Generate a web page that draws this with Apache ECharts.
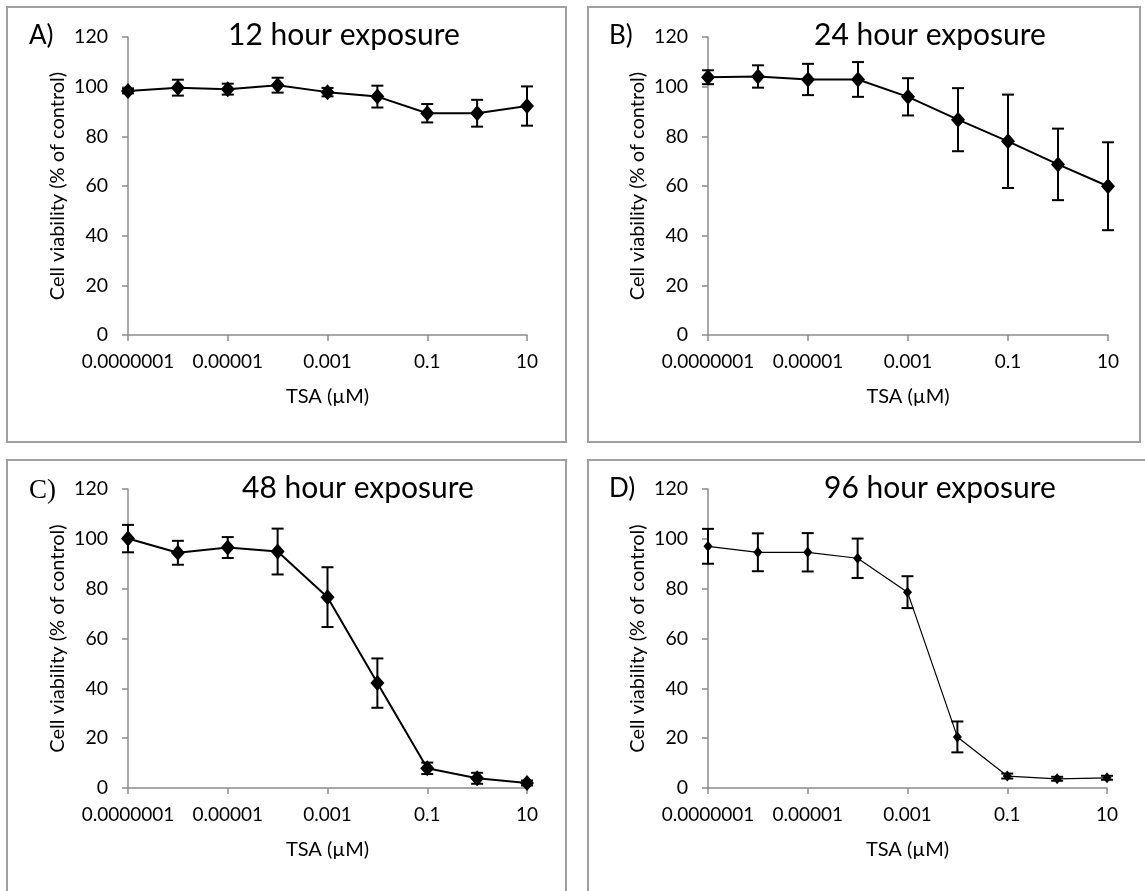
<!DOCTYPE html>
<html>
<head>
<meta charset="utf-8">
<script src="https://cdn.jsdelivr.net/npm/echarts@6/dist/echarts.min.js"></script>
<style>
  html, body { margin: 0; padding: 0; background: #fff; }
  #chart-container { width: 1145px; height: 891px; }
</style>
</head>
<body>
<div id="chart-container"></div>
<script>
// TSA concentrations (µM), one point per decade
var concentrations = [1e-7, 1e-6, 1e-5, 1e-4, 1e-3, 1e-2, 0.1, 1, 10];
var xTickLabels = ['0.0000001', '0.00001', '0.001', '0.1', '10'];
var xTickExponents = [-7, -5, -3, -1, 1];

// cell viability (% of control) and error bars
var mean12 = [98.3, 99.6, 99.0, 100.6, 97.8, 96.0, 89.3, 89.3, 92.2];
var err12 = [1.0, 3.2, 2.2, 3.0, 1.7, 4.4, 3.7, 5.4, 7.9];
var mean24 = [103.8, 104.1, 102.9, 102.9, 95.9, 86.7, 78.0, 68.7, 59.9];
var err24 = [2.8, 4.5, 6.3, 7.0, 7.5, 12.7, 18.8, 14.4, 17.7];
var mean48 = [100.1, 94.4, 96.5, 94.9, 76.6, 42.1, 7.9, 3.9, 2.0];
var err48 = [5.5, 4.8, 4.2, 9.2, 12.0, 9.9, 2.3, 2.2, 1.0];
var mean96 = [97.0, 94.6, 94.6, 92.2, 78.6, 20.5, 4.8, 3.7, 4.1];
var err96 = [7.0, 7.6, 7.7, 7.9, 6.4, 6.2, 1.0, 0.8, 0.8];

var titles = ['12 hour exposure', '24 hour exposure', '48 hour exposure', '96 hour exposure'];
var letters = ['A)', 'B)', 'C)', 'D)'];

var FONT = 'Lato';

var panels = [
  { mean: mean12, err: err12, grid: { left: 128, top: 37, width: 399, height: 298 }, frame: [7, 7, 559, 435], title: [344, 35], letter: [29, 36], thin: false },
  { mean: mean24, err: err24, grid: { left: 708, top: 37, width: 400, height: 298 }, frame: [588, 7, 552, 435], title: [930, 35], letter: [609, 36], thin: false },
  { mean: mean48, err: err48, grid: { left: 128, top: 489, width: 399, height: 299 }, frame: [7, 460, 559, 440], title: [358, 488], letter: [29, 491], thin: false, serifLetter: true },
  { mean: mean96, err: err96, grid: { left: 708, top: 489, width: 399, height: 299 }, frame: [588, 460, 570, 440], title: [940, 488], letter: [609, 489], thin: true }
];

function renderErrorBar(lw) {
  return function (params, api) {
    var x = api.value(0);
    var top = api.coord([x, api.value(2)]);
    var bot = api.coord([x, api.value(1)]);
    var half = 6;
    var st = { stroke: '#000', lineWidth: lw };
    return {
      type: 'group',
      children: [
        { type: 'line', shape: { x1: top[0], y1: top[1], x2: bot[0], y2: bot[1] }, style: st },
        { type: 'line', shape: { x1: top[0] - half, y1: top[1], x2: top[0] + half, y2: top[1] }, style: st },
        { type: 'line', shape: { x1: bot[0] - half, y1: bot[1], x2: bot[0] + half, y2: bot[1] }, style: st }
      ]
    };
  };
}

var grids = [], xAxes = [], yAxes = [], series = [], graphics = [];

panels.forEach(function (p, i) {
  grids.push(p.grid);
  xAxes.push({
    type: 'value', gridIndex: i, min: -7, max: 1, interval: 2,
    name: 'TSA (µM)', nameLocation: 'middle', nameGap: 52,
    nameTextStyle: { fontFamily: FONT, fontSize: 20, color: '#000' },
    axisLine: { show: true, onZero: false, lineStyle: { color: '#8c8c8c', width: 1.5 } },
    axisTick: { show: true, length: 6, lineStyle: { color: '#8c8c8c', width: 1.5 } },
    axisLabel: {
      margin: 17, fontFamily: FONT, fontSize: 19, color: '#000',
      formatter: function (v) {
        var k = xTickExponents.indexOf(Math.round(v));
        return k >= 0 ? xTickLabels[k] : '';
      }
    },
    splitLine: { show: false }
  });
  yAxes.push({
    type: 'value', gridIndex: i, min: 0, max: 120, interval: 20,
    name: 'Cell viability (% of control)', nameLocation: 'middle', nameGap: 60,
    nameTextStyle: { fontFamily: FONT, fontSize: 20, color: '#000' },
    axisLine: { show: true, onZero: false, lineStyle: { color: '#8c8c8c', width: 1.5 } },
    axisTick: { show: true, length: 6, lineStyle: { color: '#8c8c8c', width: 1.5 } },
    axisLabel: { margin: 20, fontFamily: FONT, fontSize: 19.5, color: '#000' },
    splitLine: { show: false }
  });

  var lineData = concentrations.map(function (c, j) { return [Math.log10(c), p.mean[j]]; });
  var errData = concentrations.map(function (c, j) { return [Math.log10(c), p.mean[j] - p.err[j], p.mean[j] + p.err[j]]; });

  series.push({
    type: 'custom', xAxisIndex: i, yAxisIndex: i,
    renderItem: renderErrorBar(2),
    encode: { x: 0, y: [1, 2] },
    data: errData, z: 3, silent: true
  });
  series.push({
    type: 'line', xAxisIndex: i, yAxisIndex: i,
    data: lineData,
    symbol: 'diamond', symbolSize: p.thin ? [9, 11] : [14, 16],
    showAllSymbol: true,
    lineStyle: { color: '#000', width: p.thin ? 1.2 : 2 },
    itemStyle: { color: '#000' },
    z: 4, silent: true, animation: false
  });

  graphics.push({
    type: 'rect', silent: true,
    shape: { x: p.frame[0], y: p.frame[1], width: p.frame[2], height: p.frame[3] },
    style: { fill: 'none', stroke: '#a0a0a0', lineWidth: 2 }
  });
  graphics.push({
    type: 'text', x: p.title[0], y: p.title[1], silent: true,
    style: { text: titles[i], font: '30px ' + FONT, fill: '#000', textAlign: 'center', textVerticalAlign: 'middle' }
  });
  graphics.push({
    type: 'text', x: p.letter[0], y: p.letter[1], silent: true,
    style: {
      text: letters[i],
      font: p.serifLetter ? '27px "Liberation Serif"' : '26px ' + FONT,
      fill: '#000', textVerticalAlign: 'middle'
    }
  });
});

var dom = document.getElementById('chart-container');
var myChart = echarts.init(dom, null, { renderer: 'canvas' });

var option = {
  backgroundColor: '#fff',
  animation: false,
  grid: grids,
  xAxis: xAxes,
  yAxis: yAxes,
  series: series,
  graphic: graphics
};

myChart.setOption(option);
window.addEventListener('resize', myChart.resize);
</script>
</body>
</html>
